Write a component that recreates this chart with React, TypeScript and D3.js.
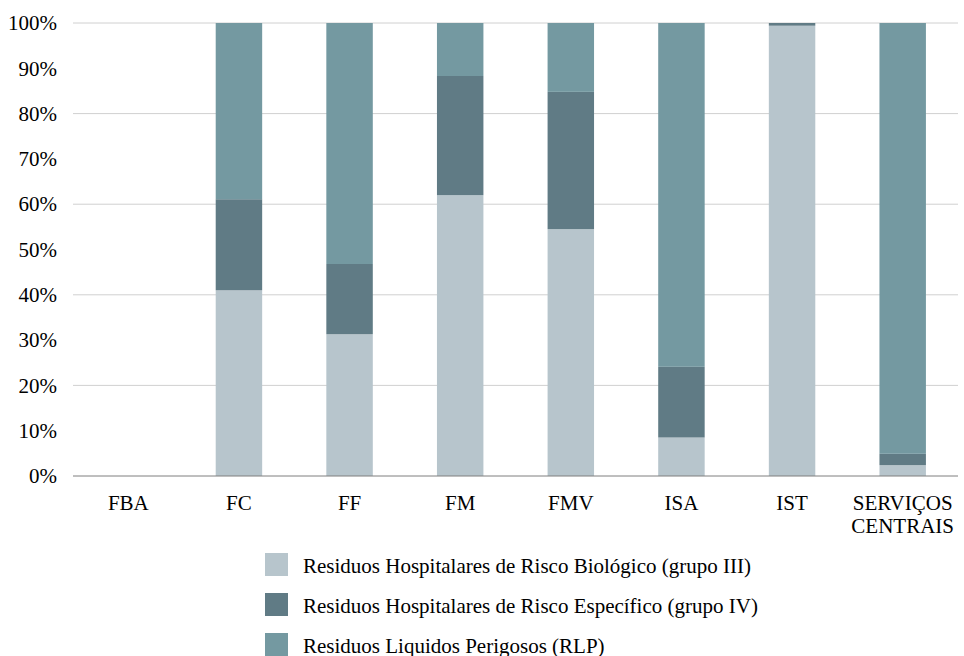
import React, { useEffect, useRef } from 'react';
import * as d3 from 'd3';

const categories = ['FBA', 'FC', 'FF', 'FM', 'FMV', 'ISA', 'IST', 'SERVIÇOS CENTRAIS'];
const seriesNames = [
  'Residuos Hospitalares de Risco Biológico (grupo III)',
  'Residuos Hospitalares de Risco Específico (grupo IV)',
  'Residuos Liquidos Perigosos (RLP)',
];
const bioValues = [0, 41.0, 31.3, 62.0, 54.5, 8.5, 99.4, 2.4];
const specValues = [0, 20.1, 15.5, 26.3, 30.3, 15.6, 0.6, 2.5];
const rlpValues = [0, 38.9, 53.2, 11.7, 15.2, 75.9, 0, 95.1];
const yTicks = [0, 10, 20, 30, 40, 50, 60, 70, 80, 90, 100];
const gridTicks = [20, 40, 60, 80, 100];
const seriesColors = ['#b7c5cc', '#607b85', '#7499a1'];

const width = 964;
const height = 656;

const App: React.FC = () => {
  const svgRef = useRef<SVGSVGElement>(null);

  useEffect(() => {
    if (!svgRef.current) return;
    const svg = d3.select(svgRef.current);
    svg.selectAll('*').remove();

    const font = 'Liberation Serif, Times New Roman, serif';
    const margin = { top: 23, right: 6, bottom: 180, left: 73 };
    const innerWidth = width - margin.left - margin.right;
    const innerHeight = 476 - margin.top;

    const rows = categories.map((c, i) => ({
      name: c,
      bio: bioValues[i],
      spec: specValues[i],
      rlp: rlpValues[i],
    }));
    const keys = ['bio', 'spec', 'rlp'];
    const stacked = d3.stack<any>().keys(keys)(rows);

    const x = d3.scaleBand().domain(categories).range([0, innerWidth]).paddingInner(0.58).paddingOuter(0.29);
    const y = d3.scaleLinear().domain([0, 100]).range([innerHeight, 0]);

    const g = svg.append('g').attr('transform', `translate(${margin.left},${margin.top})`);

    // grid
    g.append('g')
      .selectAll('line')
      .data(gridTicks)
      .enter().append('line')
      .attr('x1', 0)
      .attr('x2', innerWidth)
      .attr('y1', d => y(d))
      .attr('y2', d => y(d))
      .attr('stroke', '#d0d0d0')
      .attr('stroke-width', 1);

    // bars
    stacked.forEach((layer, si) => {
      g.append('g')
        .attr('fill', seriesColors[si])
        .selectAll('rect')
        .data(layer)
        .enter().append('rect')
        .attr('x', d => x(d.data.name) || 0)
        .attr('width', x.bandwidth())
        .attr('y', d => y(d[1]))
        .attr('height', d => Math.max(0, y(d[0]) - y(d[1])));
    });

    // baseline
    g.append('line')
      .attr('x1', 0)
      .attr('x2', innerWidth)
      .attr('y1', innerHeight)
      .attr('y2', innerHeight)
      .attr('stroke', '#7f7f7f')
      .attr('stroke-width', 1);

    // y labels
    const yAxis = g.append('g')
      .call(d3.axisLeft(y).tickValues(yTicks).tickSize(0).tickPadding(16).tickFormat(d => d + '%'));
    yAxis.select('.domain').remove();
    yAxis.selectAll('text')
      .style('font-family', font)
      .style('font-size', '21px')
      .attr('fill', '#000');

    // x labels
    const xAxis = g.append('g')
      .attr('transform', `translate(0,${innerHeight})`)
      .call(d3.axisBottom(x).tickSize(0).tickFormat(() => ''));
    xAxis.select('.domain').remove();
    xAxis.selectAll('.tick').each(function (d: any) {
      const words = d === 'SERVIÇOS CENTRAIS' ? ['SERVIÇOS', 'CENTRAIS'] : [d];
      const t = d3.select(this).select('text').text(null)
        .style('font-family', font)
        .style('font-size', '21px')
        .attr('fill', '#000')
        .attr('dy', null)
        .attr('y', 34);
      words.forEach((w, i) => {
        t.append('tspan').attr('x', 0).attr('dy', i === 0 ? 0 : 23).text(w);
      });
    });

    // legend
    const legend = svg.append('g').attr('transform', 'translate(265,553)');
    seriesNames.forEach((name, i) => {
      const row = legend.append('g').attr('transform', `translate(0,${i * 40})`);
      row.append('rect').attr('width', 23).attr('height', 23).attr('fill', seriesColors[i]);
      row.append('text')
        .attr('x', 38)
        .attr('y', 20)
        .style('font-family', font)
        .style('font-size', '21px')
        .attr('fill', '#000')
        .text(name);
    });
  }, []);

  return (
    <svg
      ref={svgRef}
      width={width}
      height={height}
      viewBox={`0 0 ${width} ${height}`}
      style={{ position: 'absolute', left: 0, top: 0, background: '#fff' }}
    />
  );
};

export default App;
